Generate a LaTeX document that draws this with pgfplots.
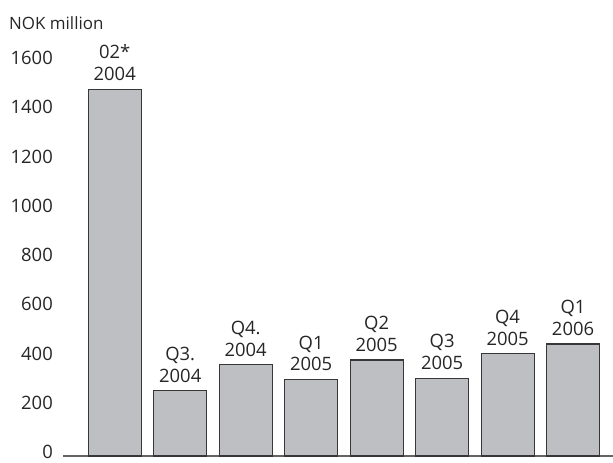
\documentclass[border=0pt]{standalone}
\usepackage{fontspec}
\setmainfont{Open Sans}
\usepackage{pgfplots}
\pgfplotsset{compat=1.18}
\usetikzlibrary{calc}
\definecolor{barfill}{RGB}{190,191,195}
\definecolor{barline}{RGB}{55,55,55}
\definecolor{baseline}{RGB}{100,100,100}
\begin{document}
\begin{tikzpicture}
\begin{axis}[
  name=ax,
  at={(0,0)}, anchor=south west,
  scale only axis,
  width=550bp, height=394bp,
  xmin=-0.79, xmax=7.61,
  ymin=0, ymax=1600,
  ytick={0,200,...,1600},
  xtick=\empty,
  axis x line*=bottom,
  axis y line*=left,
  y axis line style={draw=none},
  x axis line style={draw=baseline, line width=1.3bp, -},
  major tick length=0pt,
  ytick style={draw=none},
  /pgf/number format/assume math mode=true,
  /pgf/number format/1000 sep={},
  yticklabel style={font=\fontsize{18.5}{20}\selectfont\color{black!85}, anchor=east, inner sep=0pt, xshift=-10bp, yshift=4bp},
  ybar, bar width=53bp, bar shift=0pt,
  clip=false,
  nodes near coords,
  point meta=explicit symbolic,
  every node near coord/.append style={align=center, font=\fontsize{18.5}{22}\selectfont\color{black!85}, anchor=south, inner sep=0pt, yshift=8bp},
]
\addplot[fill=barfill, draw=barline, line width=1.1bp] coordinates {
  (0,1490) [{02*\\2004}]
  (1,265) [{Q3.\\2004}]
  (2,370) [{Q4.\\2004}]
  (3,310) [{Q1\\2005}]
  (4,390) [{Q2\\2005}]
  (5,315) [{Q3\\2005}]
  (6,415) [{Q4\\2005}]
  (7,455) [{Q1\\2006}]
};
\end{axis}
\node[anchor=west, inner sep=0pt, font=\fontsize{17}{20}\selectfont\color{black!85}] at ($(ax.south west)+(-54bp,433bp)$) {NOK million};
\pgfresetboundingbox
\path[use as bounding box] ($(ax.south west)+(-63bp,-7bp)$) rectangle ($(ax.south west)+(550bp,456bp)$);
\end{tikzpicture}
\end{document}
